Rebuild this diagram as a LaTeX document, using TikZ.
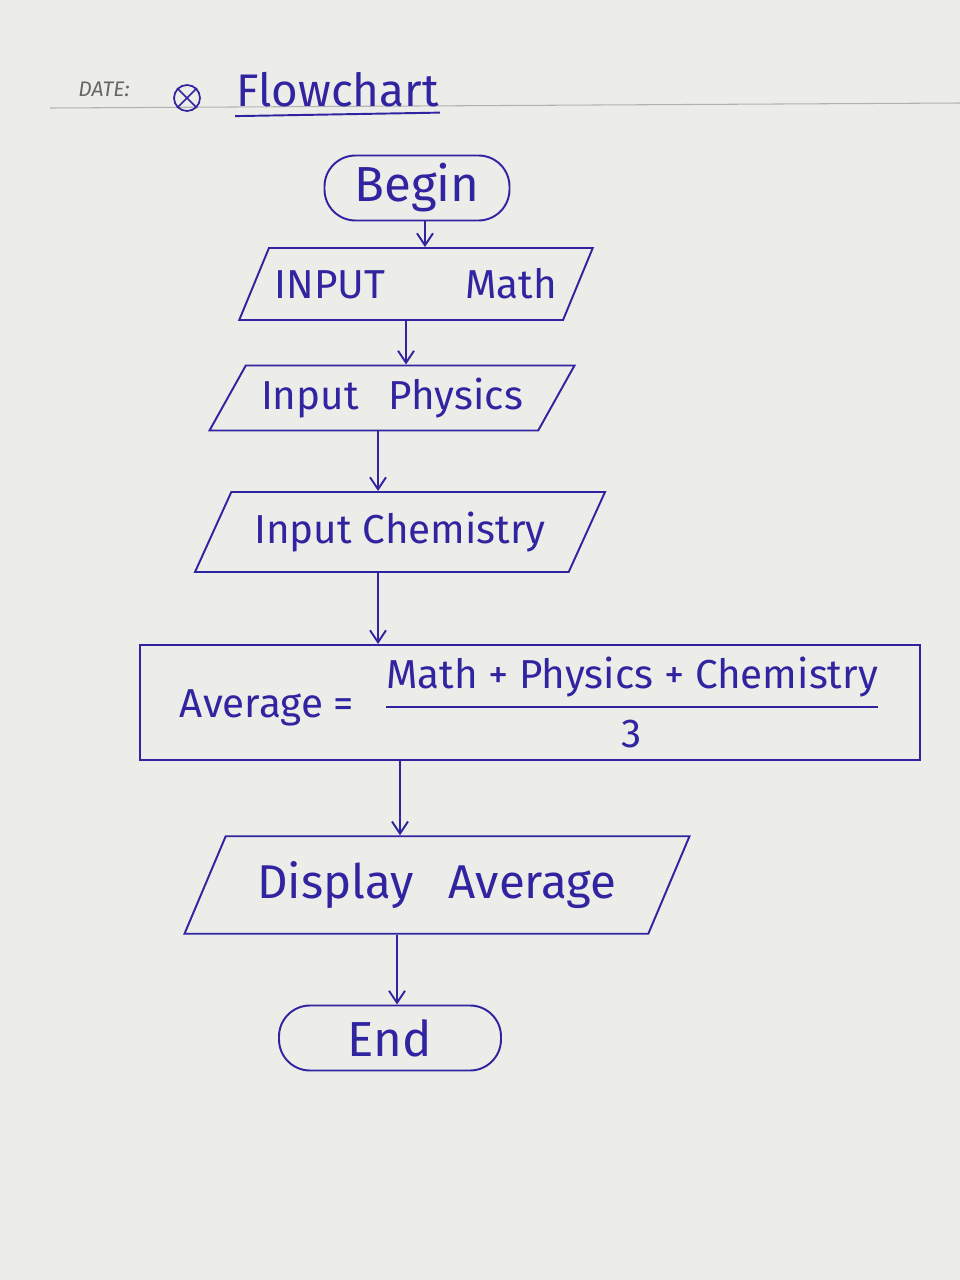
\documentclass[tikz,border=0pt]{standalone}
\usepackage{amsmath}
\usepackage{fontspec}
\setmainfont{Fira Sans}
\usepackage{tikz}
\usetikzlibrary{arrows.meta,calc,positioning,shapes.geometric}
\definecolor{ink}{RGB}{48,36,160}
\definecolor{paper}{RGB}{236,236,233}
\begin{document}
\begin{tikzpicture}[
    term/.style={draw=ink, line width=1.1pt, rounded corners=0.62cm, align=center, minimum height=1.3cm, text=ink, font=\fontsize{28}{32}\selectfont},
    io/.style={draw=ink, line width=1.1pt, trapezium, trapezium left angle=55, trapezium right angle=125, trapezium stretches body, align=center, text=ink, font=\fontsize{23}{27}\selectfont},
    proc/.style={draw=ink, line width=1.1pt, align=center, text=ink, font=\fontsize{23}{27}\selectfont},
    arr/.style={-{Straight Barb[length=2.4mm, width=3.2mm]}, line width=1.1pt, draw=ink}
  ]
    \fill[paper] (0,0) rectangle (19.2,-25.6);
    \useasboundingbox (0,0) rectangle (19.2,-25.6);
    % header of the page
    \node[font=\itshape\fontsize{12}{14}\selectfont, text=black!60] (date) at (2.08,-1.78) {DATE:};
    \draw[black!30, line width=0.6pt] (1.0,-2.16) -- (19.2,-2.06);
    \node[draw=ink, circle, line width=1pt, minimum size=0.52cm, inner sep=0pt] (mark) at (3.74,-1.96) {};
    \draw[ink, line width=0.9pt] (mark.north west) -- (mark.south east) (mark.north east) -- (mark.south west);
    \node[text=ink, font=\fontsize{26}{30}\selectfont] (title) at (6.75,-1.8) {Flowchart};
    \draw[ink, line width=1.1pt] (title.south west) ++(0.1,-0.05) -- ($(title.south east)+(-0.1,0.02)$);
    % flowchart
    \node[term, minimum width=3.7cm] (begin) at (8.34,-3.76) {Begin};
    \node[io, minimum width=6.9cm, minimum height=1.44cm] (inmath) at (8.32,-5.68) {INPUT\hspace{1.6cm}Math};
    \node[io, minimum width=7.3cm, minimum height=1.3cm] (inphys) at (7.84,-7.96) {Input\hspace{0.6cm}Physics};
    \node[io, minimum width=8.2cm, minimum height=1.6cm] (inchem) at (8.0,-10.64) {Input Chemistry};
    \node[proc, minimum width=15.6cm, minimum height=2.3cm] (avg) at (10.6,-14.05)
      {Average =\hspace{0.6cm}\(\dfrac{\text{\fontsize{23}{27}\selectfont Math + Physics + Chemistry}}{\text{\fontsize{23}{27}\selectfont 3}}\)};
    \node[io, minimum width=10.1cm, minimum height=1.95cm, font=\fontsize{27}{31}\selectfont] (disp) at (8.74,-17.7) {Display\hspace{0.7cm}Average};
    \node[term, minimum width=4.44cm] (end) at (7.8,-20.76) {End};
    \draw[arr] ([xshift=0.16cm]begin.south) -- ([xshift=0.16cm]begin.south |- inmath.north);
    \draw[arr] ([xshift=-0.2cm]inmath.south) -- ([xshift=-0.2cm]inmath.south |- inphys.north);
    \draw[arr] ([xshift=-0.28cm]inphys.south) -- ([xshift=-0.28cm]inphys.south |- inchem.north);
    \draw[arr] ([xshift=-0.44cm]inchem.south) -- ([xshift=-0.44cm]inchem.south |- avg.north);
    \draw[arr] ([xshift=-2.6cm]avg.south) -- ([xshift=-2.6cm]avg.south |- disp.north);
    \draw[arr] ([xshift=-0.8cm]disp.south) -- ([xshift=-0.8cm]disp.south |- end.north);
  \end{tikzpicture}
\end{document}
